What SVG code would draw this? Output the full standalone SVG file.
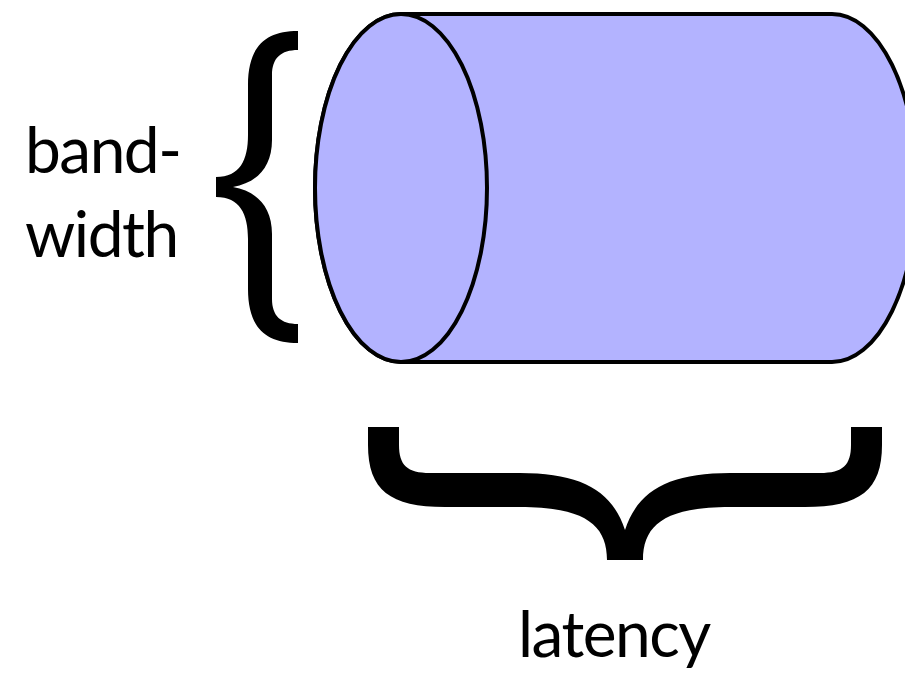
<svg xmlns="http://www.w3.org/2000/svg" width="905" height="676" viewBox="0 0 905 676">
  <style>
    .pipe { fill: #b3b3ff; stroke: #000; stroke-width: 4; }
    .brace { fill: #000; stroke: none; }
    .label { font-family: Lato, "Open Sans", "Liberation Sans", sans-serif; font-size: 64px; letter-spacing: -1.5px; fill: #000; }
  </style>
  <rect width="905" height="676" fill="#fff"/>

  <!-- horizontal cylinder: body with the far end, then the near end cap -->
  <g id="cylinder">
    <path class="pipe" d="M401,14 L832,14 A85,174 0 0 1 832,362 L401,362 A86,174 0 0 1 401,14 Z"/>
    <ellipse class="pipe" cx="401" cy="188" rx="86" ry="174"/>
  </g>

  <!-- vertical brace marking the diameter -->
  <g id="bandwidth-brace">
    <path class="brace" d="M298,31 C265,31 248,47 248,85 L248,135 C248,160 240,177 216,177 L216,197 C240,197 248,214 248,239 L248,289 C248,327 265,343 298,343 L298,324 C281,324 272,316 272,299 L272,234 C272,206 256,191 233,187 C256,183 272,168 272,140 L272,75 C272,58 281,50 298,50 Z"/>
  </g>

  <!-- horizontal brace marking the length -->
  <g id="latency-brace">
    <path class="brace" d="M368,427 L368,445 C368,490 390,507 445,507 L520,507 C585,507 607,525 607,560 L643,560 C643,525 665,507 730,507 L805,507 C860,507 882,490 882,445 L882,427 L851,427 L851,445 C851,465 843,473 820,473 L730,473 C670,473 638,490 625,530 C612,490 580,473 520,473 L430,473 C407,473 399,465 399,445 L399,427 Z"/>
  </g>

  <g id="labels">
    <text class="label" x="25" y="173">band-</text>
    <text class="label" x="25" y="257">width</text>
    <text class="label" x="518" y="657">latency</text>
  </g>
</svg>
